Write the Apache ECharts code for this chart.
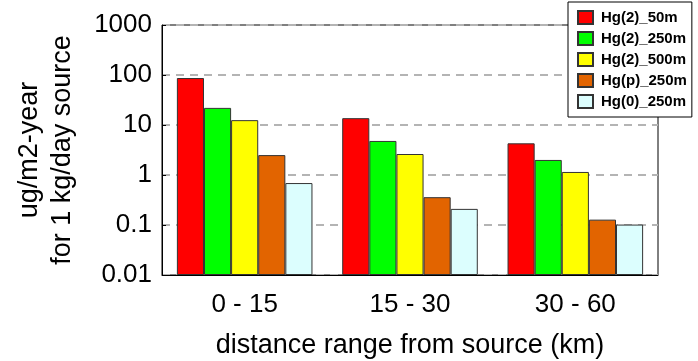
<!DOCTYPE html>
<html>
<head>
<meta charset="utf-8">
<script src="https://cdn.jsdelivr.net/npm/echarts@6/dist/echarts.min.js"></script>
<style>html,body{margin:0;padding:0;background:#fff}#c{width:698px;height:361px}</style>
</head>
<body>
<div id="c"></div>
<script>
const categories = ['0 - 15', '15 - 30', '30 - 60'];
const seriesNames = ['Hg(2)_50m', 'Hg(2)_250m', 'Hg(2)_500m', 'Hg(p)_250m', 'Hg(0)_250m'];
const hg2_50m = [87, 13.7, 4.3];
const hg2_250m = [22, 4.8, 2.0];
const hg2_500m = [12.5, 2.63, 1.15];
const hgp_250m = [2.5, 0.36, 0.128];
const hg0_250m = [0.69, 0.21, 0.102];
const yTicks = [0.01, 0.1, 1, 10, 100, 1000];
const colors = ['#ff0000', '#00ff00', '#ffff00', '#e26400', '#dcfefe'];

const values = [hg2_50m, hg2_250m, hg2_500m, hgp_250m, hg0_250m];
const FONT = '"Liberation Sans", Arial, sans-serif';

const chart = echarts.init(document.getElementById('c'), null, {renderer: 'canvas'});
chart.setOption({
  animation: false,
  backgroundColor: '#fff',
  grid: {left: 162, top: 25, right: 40, bottom: 86, show: true, borderColor: '#000', borderWidth: 1, containLabel: false, outerBoundsMode: 'none'},
  legend: {
    orient: 'vertical',
    left: 568, top: 2,
    padding: [8, 5, 8, 9],
    backgroundColor: '#fff',
    borderColor: '#000',
    borderWidth: 1,
    icon: 'rect',
    itemWidth: 15, itemHeight: 13, itemGap: 6,
    textStyle: {fontFamily: FONT, fontWeight: 'bold', fontSize: 15, color: '#000', padding: [0, 0, 0, 3]},
    data: seriesNames,
    z: 10
  },
  xAxis: {
    type: 'category',
    data: categories,
    name: 'distance range from source (km)',
    nameLocation: 'middle',
    nameGap: 57,
    nameTextStyle: {fontFamily: FONT, fontSize: 27, color: '#000'},
    axisLine: {show: true, lineStyle: {color: '#000', width: 1}},
    axisTick: {show: false},
    axisLabel: {fontFamily: FONT, fontSize: 26, color: '#000', margin: 17}
  },
  yAxis: {
    type: 'log',
    logBase: 10,
    min: 0.01, max: 1000,
    startValue: 0.01,
    name: 'ug/m2-year\nfor 1 kg/day source',
    nameLocation: 'middle',
    nameGap: 83,
    nameTextStyle: {fontFamily: FONT, fontSize: 27, color: '#000', lineHeight: 33},
    axisLine: {show: true, lineStyle: {color: '#000', width: 1}},
    axisTick: {show: true, inside: true, length: 4, lineStyle: {color: '#000'}},
    axisLabel: {fontFamily: FONT, fontSize: 26, color: '#000', margin: 10,
      formatter: function (v) {
        for (const t of yTicks) { if (Math.abs(v - t) / t < 1e-6) return String(t); }
        return String(v);
      }},
    splitLine: {show: true, lineStyle: {color: '#b4b4b4', type: [8, 6], width: 2}}
  },
  series: seriesNames.map((n, i) => ({
    name: n,
    type: 'bar',
    data: values[i],
    barGap: '0%',
    barCategoryGap: '18%',
    itemStyle: {color: colors[i], borderColor: '#333', borderWidth: 1}
  }))
});
</script>
</body>
</html>
